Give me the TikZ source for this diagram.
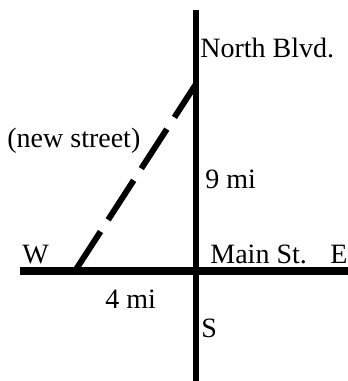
\documentclass[tikz,border=0pt]{standalone}
\usepackage{fontspec}
\setmainfont{Liberation Serif}
\usetikzlibrary{positioning}
\tikzset{street/.style={line width=3pt,draw=black},
  mainst/.style={street,line width=3.8pt},
  newstreet/.style={street,dash pattern=on 23.5pt off 7pt},
  lbl/.style={font=\fontsize{14}{16}\selectfont,inner sep=0pt,anchor=base west}}

\begin{document}
\begin{tikzpicture}[x=0.5pt,y=-0.5pt]
\useasboundingbox (0,0) rectangle (348,381);
\coordinate (north) at (196,10);
\coordinate (south) at (196,381);
\coordinate (west) at (20,271);
\coordinate (east) at (348,271);
\coordinate (junction) at (75,271);
\coordinate (bend) at (196,84);
\draw[newstreet] (junction)--(bend);
\draw[street] (north)--(south);
\draw[mainst] (west)--(east);
\node[lbl] (northblvd) at (200,57) {North Blvd.};
\node[lbl] (newst) at (7,147) {(new street)};
\node[lbl] (ninemi) at (205,188) {9 mi};
\node[lbl] (w) at (22,263) {W};
\node[lbl] (mainlbl) at (210,263) {Main St.};
\node[lbl] (e) at (330,263) {E};
\node[lbl] (fourmi) at (105,308) {4 mi};
\node[lbl] (s) at (201,337) {S};
\end{tikzpicture}
\end{document}
